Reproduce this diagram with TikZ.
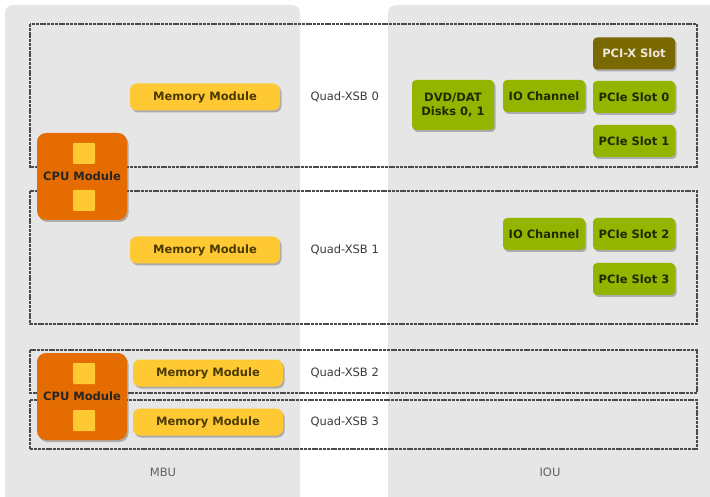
\documentclass[tikz,border=0pt]{standalone}
\usepackage{fontspec}
\setmainfont{DejaVu Sans}
\usetikzlibrary{shadows}
\definecolor{unitgrey}{HTML}{E6E6E6}
\definecolor{xsbline}{HTML}{4A4A4A}
\definecolor{memyellow}{HTML}{FFC933}
\definecolor{memtext}{HTML}{4A3A00}
\definecolor{cpuorange}{HTML}{E46C00}
\definecolor{iogreen}{HTML}{94B500}
\definecolor{iotext}{HTML}{1E2A00}
\definecolor{pcixolive}{HTML}{7A6800}
\definecolor{labelgrey}{HTML}{3A3A3A}

\begin{document}
\begin{tikzpicture}[x=1pt,y=-1pt,font=\fontsize{11.5}{13.5}\selectfont\bfseries,
    boxshadow/.style={drop shadow={shadow xshift=1.5pt,shadow yshift=-2pt,opacity=.45,fill=black!60}},
    xsb/.style={draw=xsbline,line width=1.1pt,dash pattern=on 3pt off 0.8pt},
    memmod/.style={rectangle,rounded corners=7pt,fill=memyellow,text=memtext,
      minimum width=150pt,minimum height=27pt,inner sep=0pt,boxshadow},
    cpumod/.style={rectangle,rounded corners=9pt,fill=cpuorange,text=black!85,
      minimum width=90pt,minimum height=87pt,inner sep=0pt,boxshadow},
    chip/.style={rectangle,rounded corners=1pt,fill=memyellow,minimum width=22pt,
      minimum height=21pt,inner sep=0pt},
    iobox/.style={rectangle,rounded corners=4pt,fill=iogreen,text=iotext,
      minimum width=82pt,minimum height=32pt,inner sep=0pt,align=center,boxshadow},
    pcix/.style={iobox,fill=pcixolive,text=white!85!pcixolive},
    xsblabel/.style={anchor=west,text=labelgrey,font=\fontsize{11.5}{13.5}\selectfont},
    unitlabel/.style={text=labelgrey!80,font=\fontsize{11.5}{13.5}\selectfont}]
  \useasboundingbox (0,0) rectangle (710,497);
  % unit backgrounds
  \fill[unitgrey,rounded corners=8pt] (5,5) rectangle (300,530);
  \fill[unitgrey,rounded corners=8pt] (388,5) rectangle (740,530);
  % quad-xsb frames
  \draw[xsb] (30,24) rectangle (697,167);
  \draw[xsb] (30,191) rectangle (697,324);
  \draw[xsb] (30,350) rectangle (697,393);
  \draw[xsb] (30,400) rectangle (697,449);
  % memory modules and labels
  \foreach \i/\x/\y in {0/205/97,1/205/250,2/208/373,3/208/422} {
    \node[memmod] (mem\i) at (\x,\y) {Memory Module};
    \node[xsblabel] (xsb\i) at (307,\y) {Quad-XSB \i};
  }
  % cpu modules
  \foreach \c/\y in {0/176.5,1/396.5} {
    \node[cpumod] (cpu\c) at (82,\y) {CPU Module};
    \node[chip] (cpu\c top) at (84,\y-23) {};
    \node[chip] (cpu\c bot) at (84,\y+24) {};
  }
  % iou
  \node[iobox,minimum height=50pt] (dvd) at (453,105) {DVD/DAT\\Disks 0, 1};
  \node[iobox] (ioch0) at (544,96) {IO Channel};
  \node[pcix] (pcix) at (634,53.5) {PCI-X Slot};
  \node[iobox] (pcie0) at (634,97) {PCIe Slot 0};
  \node[iobox] (pcie1) at (634,141) {PCIe Slot 1};
  \node[iobox] (ioch1) at (544,234) {IO Channel};
  \node[iobox] (pcie2) at (634,234) {PCIe Slot 2};
  \node[iobox] (pcie3) at (634,279) {PCIe Slot 3};
  % unit names
  \node[unitlabel] (mbu) at (163,472) {MBU};
  \node[unitlabel] (iou) at (550,472) {IOU};
\end{tikzpicture}
\end{document}
